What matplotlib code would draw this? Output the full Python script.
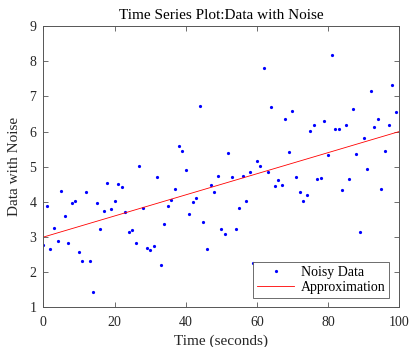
import numpy as np
import matplotlib.pyplot as plt

plt.rcParams['font.family'] = ['Liberation Serif', 'DejaVu Serif']

# time samples (seconds)
t = list(range(0, 100))
noisy = [2.78, 3.87, 2.66, 3.26, 2.89, 4.32, 3.59, 2.84, 3.98, 4.04,
         2.59, 2.32, 4.28, 2.32, 1.45, 3.98, 3.23, 3.75, 4.55, 3.79,
         4.04, 4.50, 4.43, 3.72, 3.15, 3.19, 2.83, 5.02, 3.83, 2.68,
         2.64, 2.76, 4.71, 2.21, 3.38, 3.88, 4.05, 4.37, 5.59, 5.44,
         4.92, 3.67, 3.99, 4.10, 6.73, 3.44, 2.66, 4.48, 4.27, 4.73,
         3.22, 3.09, 5.39, 4.71, 3.23, 3.82, 4.75, 4.03, 4.85, 2.27,
         5.17, 5.01, 7.81, 4.84, 6.71, 4.44, 4.61, 4.48, 6.37, 5.41,
         6.59, 4.72, 4.28, 4.04, 4.21, 6.02, 6.18, 4.66, 4.69, 6.29,
         5.32, 8.19, 6.06, 6.06, 4.34, 6.18, 4.66, 6.64, 5.36, 3.14,
         5.82, 4.93, 7.16, 6.14, 6.35, 4.38, 5.46, 6.19, 7.33, 6.57]
fit_x = [0, 100]
fit_y = [3.0, 6.0]

fig = plt.figure(figsize=(4.09, 3.47), dpi=100)
ax = fig.add_axes([0.106, 0.114, 0.870, 0.811])

ax.plot(t, noisy, 'o', color='blue', markersize=2.3, markeredgewidth=0,
        label='Noisy Data')
ax.plot(fit_x, fit_y, '-', color='red', linewidth=0.6, label='Approximation')

ax.set_xlim(0, 100)
ax.set_ylim(1, 9)
ax.set_xticks(range(0, 101, 20))
ax.set_yticks(range(1, 10))
ax.tick_params(direction='in', length=3.5, width=0.6, colors='#555555',
               labelcolor='#262626', labelsize=10, top=True, right=True)
ax.tick_params(axis='x', pad=6)
ax.tick_params(axis='y', pad=5)
for s in ax.spines.values():
    s.set_color('#555555')
    s.set_linewidth(0.7)

ax.set_title('Time Series Plot:Data with Noise', fontsize=11, color='black', pad=5)
ax.set_xlabel('Time (seconds)', fontsize=11, color='#262626', labelpad=4)
ax.set_ylabel('Data with Noise', fontsize=11, color='#262626', labelpad=6)

leg = ax.legend(loc='lower right', fontsize=10, fancybox=False, framealpha=1,
                edgecolor='#555555', borderpad=0.3, labelspacing=0.1,
                handlelength=2.6, handletextpad=0.5, borderaxespad=0.7)
leg.get_frame().set_linewidth(0.6)

fig.savefig('out.png', dpi=100)
